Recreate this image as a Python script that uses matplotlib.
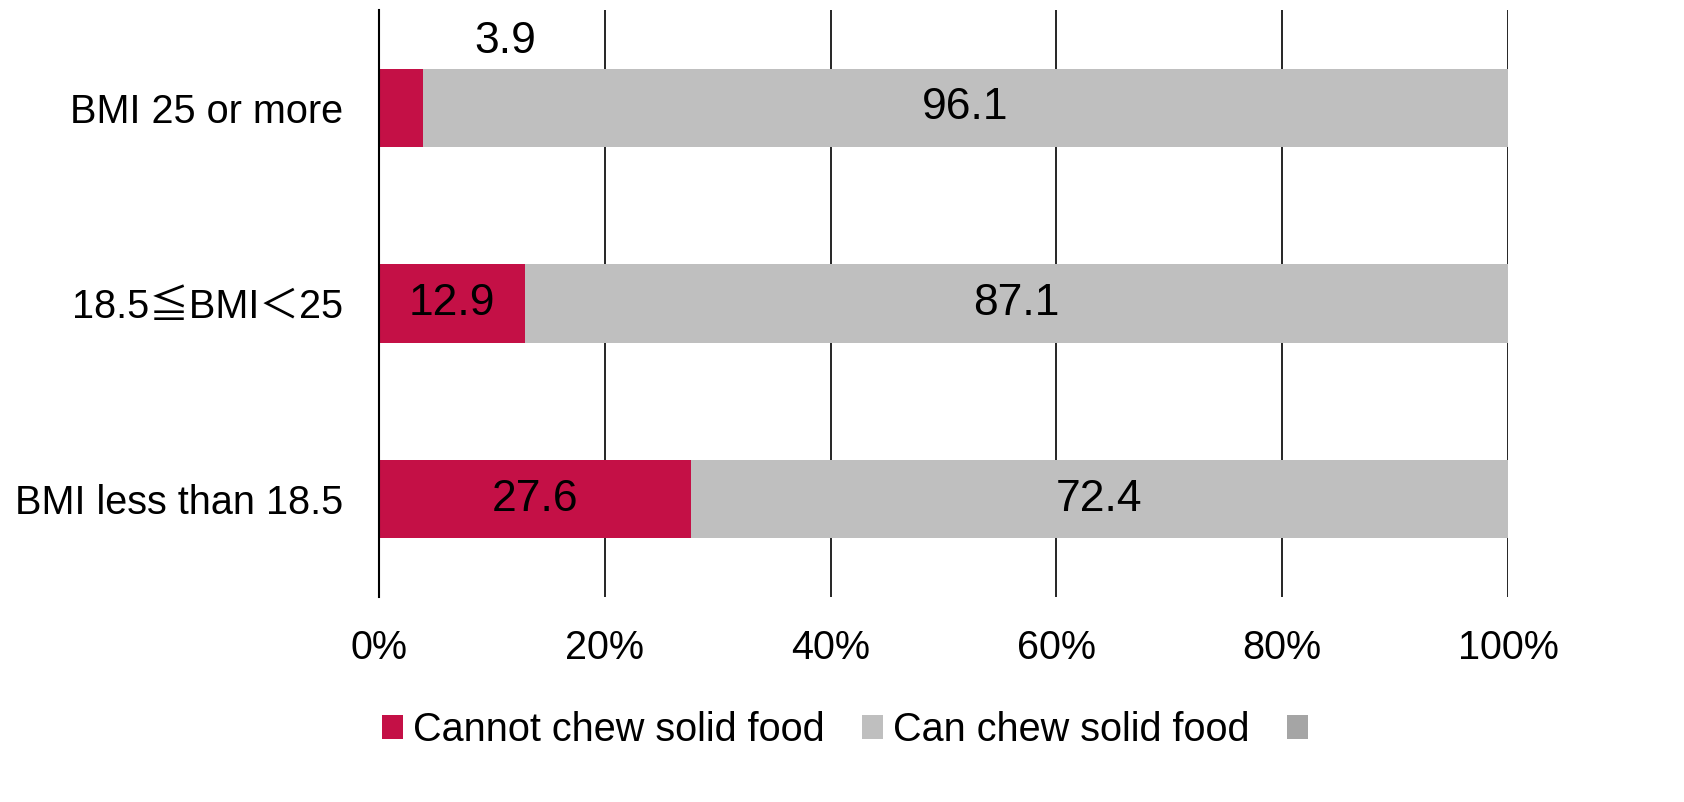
import matplotlib.pyplot as plt
from matplotlib.patches import Patch
from matplotlib.ticker import PercentFormatter

plt.rcParams['font.family'] = ['Liberation Sans', 'Noto Sans CJK JP', 'DejaVu Sans']

categories = ['BMI less than 18.5', '18.5≦BMI＜25', 'BMI 25 or more']
cannot = [27.6, 12.9, 3.9]
can = [72.4, 87.1, 96.1]
series_names = ['Cannot chew solid food', 'Can chew solid food', '']
colors = ['#C41046', '#BFBFBF', '#A5A5A5']

fig = plt.figure(figsize=(16.84, 8.02), dpi=100)
ax = fig.add_axes([379 / 1684, 1 - 597 / 802, 1129 / 1684, 587 / 802])

y = range(len(categories))
ax.barh(y, cannot, height=0.4, color=colors[0], zorder=3)
ax.barh(y, can, left=cannot, height=0.4, color=colors[1], zorder=3)

fs = 28.5
lfs = 32
for i in y:
    if cannot[i] >= 10:
        ax.text(cannot[i] / 2, i, f'{cannot[i]:.1f}', ha='center', va='center',
                fontsize=lfs, zorder=4)
    else:
        # small value label moved above the bar
        ax.text(11.2, i + 0.34, f'{cannot[i]:.1f}', ha='center', va='center',
                fontsize=lfs, zorder=4)
    ax.text(cannot[i] + can[i] / 2, i, f'{can[i]:.1f}', ha='center', va='center',
            fontsize=lfs, zorder=4)

ax.set_xlim(0, 100)
ax.set_ylim(-0.5, 2.5)
ax.set_xticks(range(0, 101, 20))
ax.xaxis.set_major_formatter(PercentFormatter(decimals=0))
ax.set_yticks(list(y))
ax.set_yticklabels(categories)
ax.tick_params(axis='both', length=0, labelsize=fs)
ax.tick_params(axis='x', pad=23)
ax.tick_params(axis='y', pad=26)
ax.grid(axis='x', color='black', linewidth=1.2, zorder=0)
for s in ['top', 'right', 'bottom']:
    ax.spines[s].set_visible(False)
ax.spines['left'].set_linewidth(1.5)
ax.spines['left'].set_zorder(5)

handles = [Patch(facecolor=c, edgecolor='none') for c in colors]
fig.legend(handles, series_names, loc='center', bbox_to_anchor=(850 / 1684, 1 - 730 / 802),
           ncol=3, frameon=False, fontsize=fs, handlelength=0.53, handleheight=0.53,
           handletextpad=0.25, columnspacing=0.95)

fig.savefig('out.png', dpi=100)
